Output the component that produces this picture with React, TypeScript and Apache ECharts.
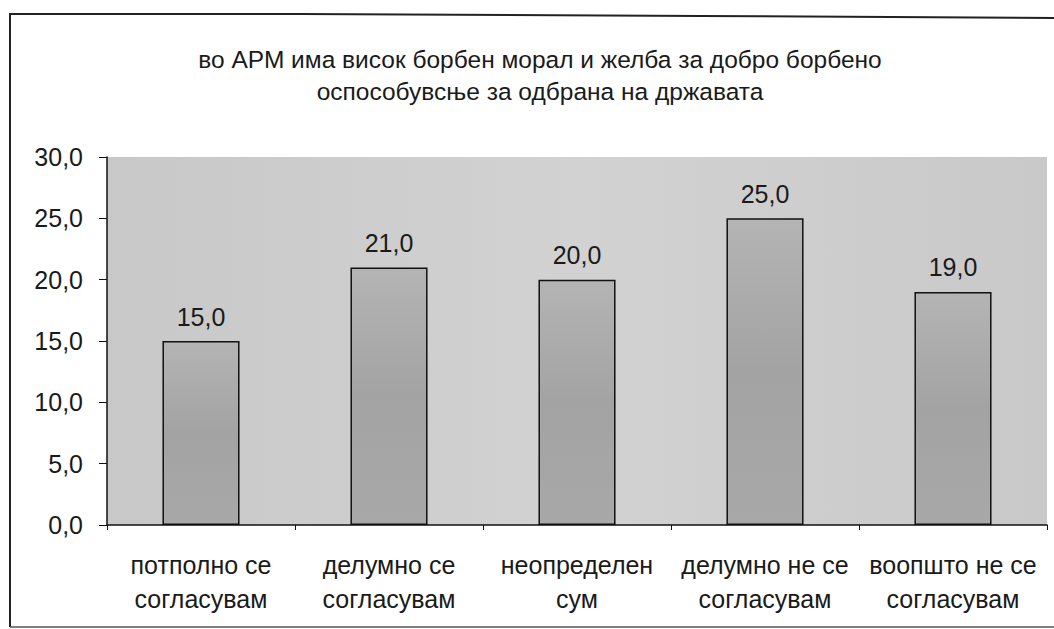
import React, { useEffect, useRef } from "react";
import * as echarts from "echarts";

const titleLines = [
  "во АРМ има висок борбен морал и желба за добро борбено",
  "оспособувсње за одбрана на државата",
];
const categories = [
  "потполно се\nсогласувам",
  "делумно се\nсогласувам",
  "неопределен\nсум",
  "делумно не се\nсогласувам",
  "воопшто не се\nсогласувам",
];
const values = [15.0, 21.0, 20.0, 25.0, 19.0];
const yTicks = [0, 5, 10, 15, 20, 25, 30];

const fmt = (v: number) => v.toFixed(1).replace(".", ",");
const FONT = "Liberation Sans, Arial, sans-serif";

export default function App() {
  const ref = useRef<HTMLDivElement>(null);
  useEffect(() => {
    if (!ref.current) return;
    const chart = echarts.init(ref.current, undefined, { renderer: "svg" });
    chart.setOption({
      animation: false,
      backgroundColor: "#ffffff",
      title: {
        text: titleLines.join("\n"),
        left: 535,
        top: 38,
        textAlign: "center",
        textStyle: {
          fontFamily: FONT,
          fontSize: 24.5,
          fontWeight: "normal",
          color: "#1a1a1a",
          lineHeight: 32,
        },
      },
      graphic: [
        {
          type: "polyline",
          shape: { points: [[10, 627], [10, 14], [300, 14], [700, 16], [1054, 18]] },
          style: { fill: "none", stroke: "#222", lineWidth: 2 },
          silent: true,
        },
        {
          type: "line",
          shape: { x1: 10, y1: 627, x2: 1054, y2: 627 },
          style: { stroke: "#555", lineWidth: 1.5 },
          silent: true,
        },
      ],
      grid: {
        left: 107,
        right: 7,
        top: 157,
        bottom: 104,
        show: true,
        backgroundColor: {
          type: "linear",
          x: 0, y: 0, x2: 1, y2: 0,
          colorStops: [
            { offset: 0, color: "#c8c8c8" },
            { offset: 0.5, color: "#d2d2d2" },
            { offset: 1, color: "#c9c9c9" },
          ],
        },
        borderWidth: 0,
      },
      xAxis: {
        type: "category",
        data: categories,
        axisLine: { show: true, lineStyle: { color: "#111", width: 1.5 } },
        axisTick: { show: true, alignWithLabel: false, length: 5, lineStyle: { color: "#111" } },
        axisLabel: {
          fontFamily: FONT,
          fontSize: 25,
          color: "#1a1a1a",
          lineHeight: 34,
          margin: 23,
          interval: 0,
        },
      },
      yAxis: {
        type: "value",
        min: 0,
        max: 30,
        interval: 5,
        splitLine: { show: false },
        axisLine: { show: true, lineStyle: { color: "#111", width: 1.5 } },
        axisTick: { show: true, length: 8, lineStyle: { color: "#111" } },
        axisLabel: {
          fontFamily: FONT,
          fontSize: 25,
          color: "#1a1a1a",
          margin: 24,
          formatter: (v: number) => (yTicks.includes(v) ? fmt(v) : ""),
        },
      },
      series: [
        {
          type: "bar",
          data: values,
          barWidth: "41%",
          itemStyle: {
            color: {
              type: "linear",
              x: 0, y: 0, x2: 0, y2: 1,
              colorStops: [
                { offset: 0, color: "#b4b4b4" },
                { offset: 0.5, color: "#a3a3a3" },
                { offset: 1, color: "#a8a8a8" },
              ],
            },
            borderColor: "#111",
            borderWidth: 1.5,
          },
          label: {
            show: true,
            position: "top",
            distance: 12,
            formatter: (p: any) => fmt(p.value),
            fontFamily: FONT,
            fontSize: 25,
            color: "#1a1a1a",
          },
        },
      ],
    });
    return () => chart.dispose();
  }, []);
  return <div ref={ref} style={{ width: 1054, height: 629, position: "absolute", left: 0, top: 0 }} />;
}
